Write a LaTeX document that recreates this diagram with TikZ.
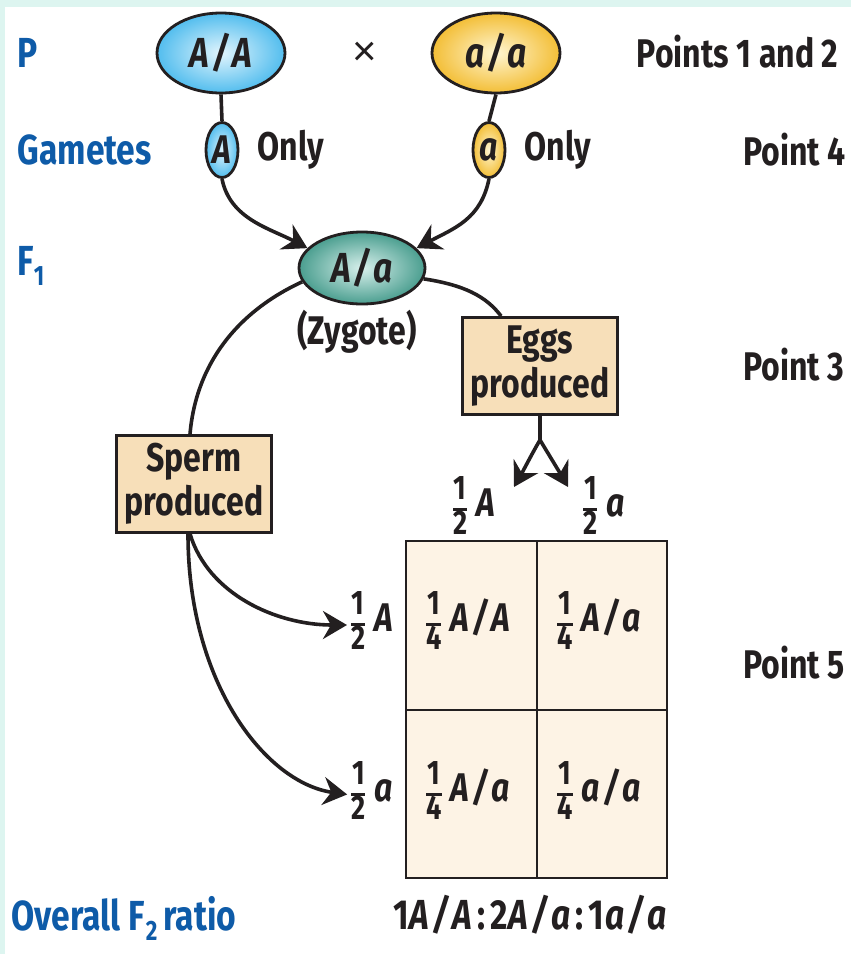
\documentclass[tikz,border=0pt]{standalone}
\usepackage{fontspec}
\setmainfont{Fira Sans}[FakeStretch=0.8]
\newfontfamily\xfont{Liberation Sans}
\usetikzlibrary{shapes.geometric,arrows.meta}
\definecolor{mint}{HTML}{DDF5F0}
\definecolor{labblue}{HTML}{0E5BA8}
\definecolor{ink}{HTML}{231F20}
\definecolor{boxfill}{HTML}{F7DFB9}
\definecolor{punfill}{HTML}{FDF3E5}
\definecolor{blin}{HTML}{E2F5FD}
\definecolor{blout}{HTML}{52BDEE}
\definecolor{yein}{HTML}{FFF6D2}
\definecolor{yeout}{HTML}{F3BE36}
\definecolor{tein}{HTML}{D8F0EC}
\definecolor{teout}{HTML}{4A9E8F}
\newcommand\lblfont{\fontsize{40}{44}\selectfont\bfseries}
\newcommand\fr[2]{\mbox{\fontsize{34}{34}\selectfont\setlength\arrayrulewidth{2.8pt}\renewcommand\arraystretch{0.9}$\vcenter{\hbox{\begin{tabular}{@{}c@{}}#1\\\hline #2\end{tabular}}}$}\kern9pt}
\newcommand\gt[2]{\textit{#1\kern3pt/\kern3pt#2}}
\begin{document}
\begin{tikzpicture}[x=1pt,y=-1pt,
  every node/.style={font=\lblfont,text=ink},
  bluelab/.style={text=labblue,anchor=west,font=\fontsize{42}{46}\selectfont\bfseries},
  ptlab/.style={anchor=west},
  genoell/.style={ellipse,draw=ink,line width=2.8pt,minimum width=128pt,minimum height=80pt,inner sep=0pt,font=\fontsize{42}{44}\selectfont\bfseries},
  gamell/.style={ellipse,draw=ink,line width=2.8pt,minimum width=32pt,minimum height=55pt,inner sep=0pt,font=\fontsize{40}{44}\selectfont\bfseries},
  prodbox/.style={draw=ink,line width=2.8pt,fill=boxfill,minimum width=155pt,minimum height=97pt,align=center,inner sep=0pt,font=\lblfont\linespread{1.0}\selectfont},
  conn/.style={draw=ink,line width=3.6pt},
  arr/.style={conn,-{Stealth[length=24pt,width=28pt,inset=8pt]}},
  cell/.style={inner sep=0pt}
]
\useasboundingbox (0,0) rectangle (851,954);
\fill[white] (0,0) rectangle (851,954);
\fill[mint] (0,0) rectangle (851,7);
\fill[mint] (0,0) rectangle (5,954);

% left labels
\node[bluelab] (lP) at (14,53) {P};
\node[bluelab] (lG) at (14,150) {Gametes};
\node[bluelab] (lF) at (14,266) {F\raisebox{-10pt}{\fontsize{28}{28}\selectfont 1}};
\node[bluelab] (lO) at (8,918) {Overall F\kern1pt\raisebox{-10pt}{\fontsize{28}{28}\selectfont 2}\kern6pt ratio};

% right labels
\node[anchor=east] (p12) at (842,52) {Points 1 and 2};
\node[ptlab] (p4) at (740,150) {Point 4};
\node[ptlab] (p3) at (740,365) {Point 3};
\node[ptlab] (p5) at (740,663) {Point 5};

% parents
\node[genoell,inner color=blin,outer color=blout] (AA) at (221,53) {\gt{A}{A}};
\node[genoell,inner color=yein,outer color=yeout] (aa) at (496,53) {\gt{a}{a}};
\node[font=\xfont\fontsize{42}{42}\selectfont] (x) at (365,54) {×};

% gametes
\node[gamell,inner color=blin,outer color=blout] (gA) at (222,150) {\textit{A}};
\node[gamell,inner color=yein,outer color=yeout] (ga) at (489,150) {\textit{a}};
\node[anchor=west] (oA) at (254,150) {Only};
\node[anchor=west] (oa) at (521,150) {Only};

% zygote
\node[genoell,minimum width=126pt,minimum height=72pt,inner color=tein,outer color=teout] (zyg) at (362,268) {\gt{A}{a}};
\node (zl) at (357,332) {(Zygote)};

% boxes
\node[prodbox] (eggs) at (540,366) {Eggs\\produced};
\node[prodbox] (sperm) at (194,484) {Sperm\\produced};

% Punnett square
\draw[ink,line width=2.8pt,fill=punfill] (406,541) rectangle (667,878);
\draw[ink,line width=2.8pt] (537,541) -- (537,878) (406,710) -- (667,710);
\node[cell] (c11) at (468,625) {\fr{1}{4}\gt{A}{A}};
\node[cell] (c12) at (599,625) {\fr{1}{4}\gt{A}{a}};
\node[cell] (c21) at (468,795) {\fr{1}{4}\gt{A}{a}};
\node[cell] (c22) at (599,795) {\fr{1}{4}\gt{a}{a}};

% allele labels
\node[cell] (eA) at (474,510) {\fr{1}{2}\textit{A}};
\node[cell] (ea) at (604,510) {\fr{1}{2}\textit{a}};
\node[cell] (rA) at (372,625) {\fr{1}{2}\textit{A}};
\node[cell] (ra) at (372,795) {\fr{1}{2}\textit{a}};

% ratio
\node[font=\fontsize{42}{44}\selectfont\bfseries] (ratio) at (530,915) {1\kern1pt\gt{A}{A}\kern5pt:\kern5pt2\kern1pt\gt{A}{a}\kern5pt:\kern5pt1\kern1pt\gt{a}{a}};

% connectors
\draw[conn] (AA.south) -- (gA.north);
\draw[conn] (aa.south) -- (ga.north);
\draw[arr] (gA.south) .. controls +(8,40) and +(-38,-20) .. (zyg.160);
\draw[arr] (ga.south) .. controls +(-8,40) and +(38,-20) .. (zyg.20);
\draw[conn] (zyg.193) .. controls +(-65,30) and +(6,-70) .. ([xshift=-4pt]sperm.north);
\draw[conn] (zyg.-10) .. controls +(40,6) and +(-15,-20) .. ([xshift=40pt]eggs.north west);
\coordinate (split) at (540,440);
\coordinate (tipL) at (514,487);
\coordinate (tipR) at (568,487);
\draw[conn] (eggs.south) -- (split);
\draw[arr] (split) .. controls +(-6,10) and +(8,-14) .. (tipL);
\draw[arr] (split) .. controls +(6,10) and +(-8,-14) .. (tipR);
\draw[arr,shorten >=4pt] ([xshift=-4pt]sperm.south) .. controls +(18,60) and +(-75,0) .. (rA.west);
\draw[arr,shorten >=4pt] ([xshift=-6pt]sperm.south) .. controls +(0,150) and +(-85,-12) .. (ra.west);
\end{tikzpicture}
\end{document}
